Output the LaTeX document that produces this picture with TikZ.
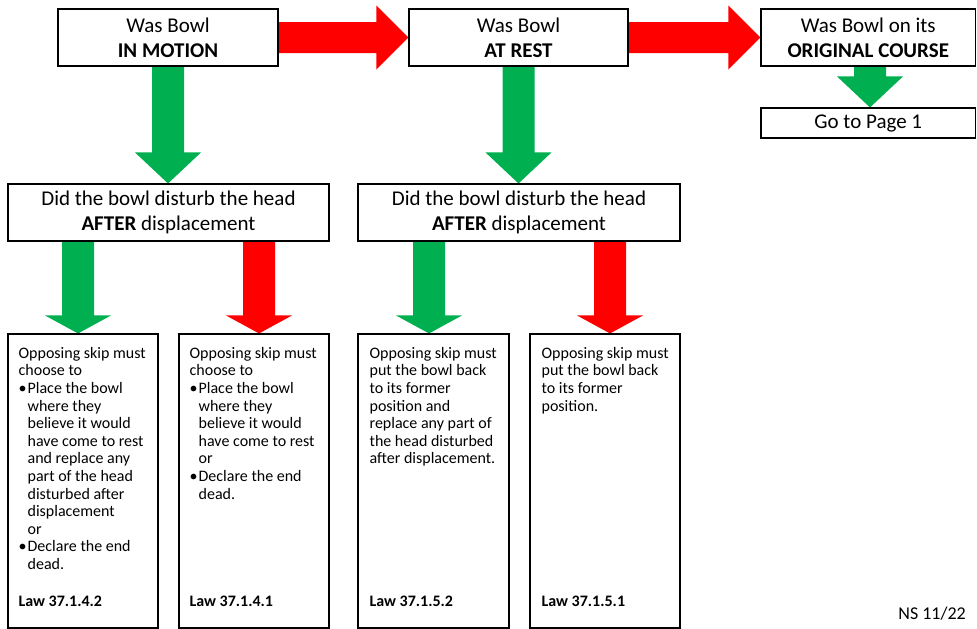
\documentclass[tikz,border=0pt]{standalone}
\usepackage{fontspec}
\setmainfont{Carlito}
\usetikzlibrary{calc}
\definecolor{gr}{HTML}{00B050}
\definecolor{rd}{HTML}{FF0000}
\pgfdeclarelayer{bg}
\pgfsetlayers{bg,main}
\newcommand\varw[4]{%
  \fill[#1] let \p1=(#2), \p2=(#3) in
  (\x2-16pt,\y1) -- (\x2+16pt,\y1) -- (\x2+16pt,\y2+#4pt) -- (\x2+33pt,\y2+#4pt)
  -- (\x2,\y2) -- (\x2-33pt,\y2+#4pt) -- (\x2-16pt,\y2+#4pt) -- cycle;}
\newcommand\harw[4]{%
  \fill[#1] let \p1=(#2), \p2=(#3) in
  (\x1,\y2+15.5pt) -- (\x2-#4pt,\y2+15.5pt) -- (\x2-#4pt,\y2+32pt) -- (\x2,\y2)
  -- (\x2-#4pt,\y2-32pt) -- (\x2-#4pt,\y2-15.5pt) -- (\x1,\y2-15.5pt) -- cycle;}
\newcommand\bitem{\par\hangindent=9pt\hangafter=1\noindent\makebox[9pt][l]{\textbullet}}
\newcommand\txtblock[1]{\begin{minipage}[t]{140pt}\fontsize{16}{17.6}\selectfont\parindent=0pt\parskip=0pt #1\end{minipage}}
\begin{document}
\begin{tikzpicture}[x=1pt,y=-1pt,
  box/.style={draw=black, line width=1.1pt, inner sep=0pt},
  big/.style={font=\fontsize{21}{25}\selectfont},
  small/.style={font=\fontsize{16}{17.6}\selectfont},
  txt/.style={anchor=north west, inner sep=0pt},
]
\useasboundingbox (0,0) rectangle (977,629);
% top boxes
\node[box, big, align=center, minimum width=220pt, minimum height=57pt] (b1) at (168,37.5) {Was Bowl\\\textbf{IN MOTION}};
\node[box, big, align=center, minimum width=219pt, minimum height=57pt] (b2) at (518.5,37.5) {Was Bowl\\\textbf{AT REST}};
\node[box, big, align=center, minimum width=214.5pt, minimum height=57pt] (b3) at (868.25,37.5) {Was Bowl on its\\\textbf{ORIGINAL COURSE}};
\node[box, big, minimum width=214.5pt, minimum height=30pt] (g) at (868.25,123) {Go to Page 1};
% decision boxes
\node[box, big, align=center, minimum width=321pt, minimum height=57pt] (d1) at (168.5,212.5) {Did the bowl disturb the head\\\textbf{AFTER} displacement};
\node[box, big, align=center, minimum width=322pt, minimum height=57pt] (d2) at (519,212.5) {Did the bowl disturb the head\\\textbf{AFTER} displacement};
% outcome boxes
\node[box, minimum width=150pt, minimum height=294pt] (oa) at (83,481) {};
\node[box, minimum width=150pt, minimum height=294pt] (ob) at (254,481) {};
\node[box, minimum width=151pt, minimum height=294pt] (oc) at (433.5,481) {};
\node[box, minimum width=150pt, minimum height=294pt] (od) at (605,481) {};
\node[txt] (ta) at ($(oa.north west)+(11,13.5)$) {\txtblock{Opposing skip must\newline choose to\bitem Place the bowl\newline where they\newline believe it would\newline have come to rest\newline and replace any\newline part of the head\newline disturbed after\newline displacement\newline or\bitem Declare the end\newline dead.\par}};
\node[txt] (tb) at ($(ob.north west)+(11,13.5)$) {\txtblock{Opposing skip must\newline choose to\bitem Place the bowl\newline where they\newline believe it would\newline have come to rest\newline or\bitem Declare the end\newline dead.\par}};
\node[txt] (tc) at ($(oc.north west)+(12,13.5)$) {\txtblock{Opposing skip must\newline put the bowl back\newline to its former\newline position and\newline replace any part of\newline the head disturbed\newline after displacement.\par}};
\node[txt] (td) at ($(od.north west)+(12,13.5)$) {\txtblock{Opposing skip must\newline put the bowl back\newline to its former\newline position.\par}};
\node[small, anchor=base west, inner sep=0pt] (la) at ($(oa.south west)+(11,-22.5)$) {\textbf{Law 37.1.4.2}};
\node[small, anchor=base west, inner sep=0pt] (lb) at ($(ob.south west)+(11,-22.5)$) {\textbf{Law 37.1.4.1}};
\node[small, anchor=base west, inner sep=0pt] (lc) at ($(oc.south west)+(12,-22.5)$) {\textbf{Law 37.1.5.2}};
\node[small, anchor=base west, inner sep=0pt] (ld) at ($(od.south west)+(12,-22.5)$) {\textbf{Law 37.1.5.1}};
\node[anchor=base east, inner sep=0pt, font=\fontsize{18}{21}\selectfont] (ns) at (966,619) {NS 11/22};
% arrow positions
\coordinate (pa) at (78,0);
\coordinate (pb) at (259,0);
\coordinate (pc) at (429,0);
\coordinate (pd) at (610,0);
\coordinate (pg) at (870,0);
\begin{pgfonlayer}{bg}
\harw{rd}{b1.east}{b2.west}{32}
\harw{rd}{b2.east}{b3.west}{32}
\varw{gr}{b1.south}{b1.south |- d1.north}{31}
\varw{gr}{b2.south}{b2.south |- d2.north}{31}
\varw{gr}{pg |- b3.south}{pg |- g.north}{31}
\varw{gr}{pa |- d1.south}{pa |- oa.north}{18}
\varw{rd}{pb |- d1.south}{pb |- ob.north}{18}
\varw{gr}{pc |- d2.south}{pc |- oc.north}{18}
\varw{rd}{pd |- d2.south}{pd |- od.north}{18}
\end{pgfonlayer}
\end{tikzpicture}
\end{document}
